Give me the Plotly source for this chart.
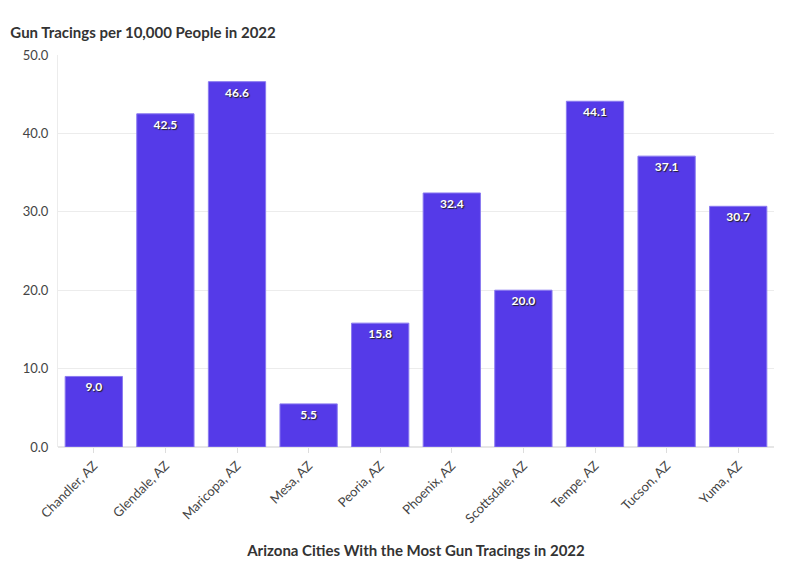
import plotly.graph_objects as go

cities = ["Chandler, AZ", "Glendale, AZ", "Maricopa, AZ", "Mesa, AZ", "Peoria, AZ",
          "Phoenix, AZ", "Scottsdale, AZ", "Tempe, AZ", "Tucson, AZ", "Yuma, AZ"]
tracings = [9.0, 42.5, 46.6, 5.5, 15.8, 32.4, 20.0, 44.1, 37.1, 30.7]

FONT = "Source Sans Pro, Lato, Noto Sans, sans-serif"

fig = go.Figure(go.Bar(
    x=cities, y=tracings,
    marker=dict(color="#553ae8", line=dict(color="#8a7af0", width=1)),
    text=[f"{v:.1f}" for v in tracings],
    textposition="inside", insidetextanchor="end",
    textfont=dict(family=FONT, size=12, color="white", weight="bold",
                  shadow="1px 1px 1px #222"),
    cliponaxis=False,
))

fig.update_layout(
    width=788, height=567,
    margin=dict(l=50, r=22, t=47, b=128),
    paper_bgcolor="white", plot_bgcolor="white",
    bargap=0.2,
    showlegend=False,
    font=dict(family=FONT, color="#444"),
    title=dict(text="<b>Gun Tracings per 10,000 People in 2022</b>",
               x=0.003, xanchor="left", y=1 - 25 / 567, yanchor="middle",
               font=dict(family=FONT, size=15, color="#333")),
    xaxis=dict(
        title=dict(text="<b>Arizona Cities With the Most Gun Tracings in 2022</b>",
                   font=dict(family=FONT, size=15, color="#333"), standoff=20),
        tickangle=-45, tickfont=dict(family=FONT, size=13, color="#444"),
        ticks="outside", ticklen=5, tickcolor="#ddd",
        showline=False, showgrid=False,
    ),
    yaxis=dict(
        range=[0, 50], dtick=10, tickformat=".1f",
        tickfont=dict(family=FONT, size=13, color="#444"),
        showgrid=True, gridcolor="#ececec", gridwidth=1,
        zeroline=True, zerolinecolor="#e6e6e6", zerolinewidth=2,
        showline=True, linecolor="#ececec", linewidth=1,
        ticks="", ticklabelstandoff=6,
    ),
)

fig.write_html("out.html")
